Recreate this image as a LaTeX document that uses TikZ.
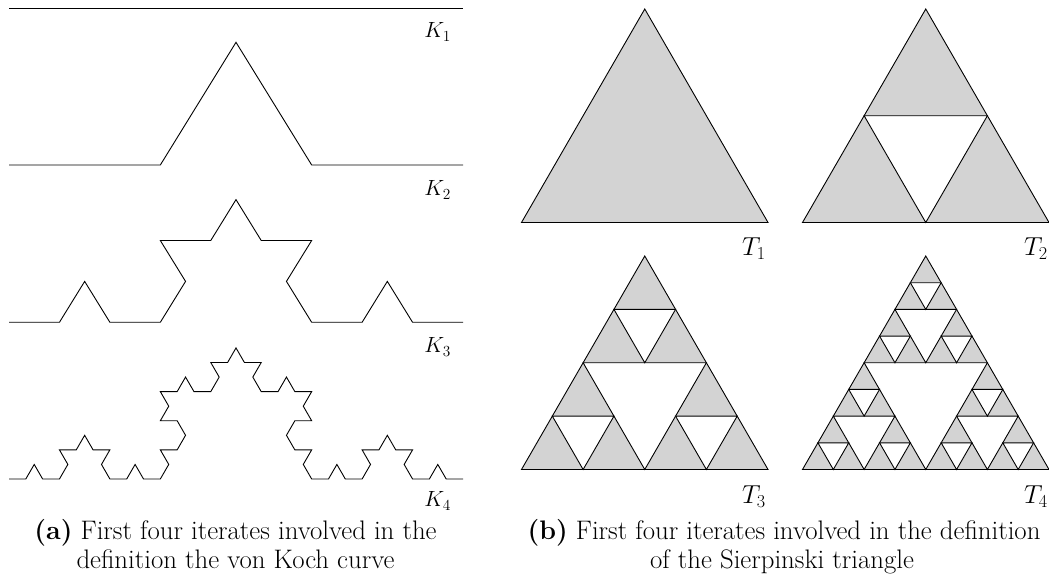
\RequirePackage{fix-cm}
\documentclass[tikz,border=0pt]{standalone}
\usetikzlibrary{lindenmayersystems}
\pgfdeclarelindenmayersystem{Koch}{\rule{F -> F+F--F+F}}
\definecolor{sfill}{HTML}{D3D3D3}
\tikzset{
  kochline/.style={line width=0.9pt, line join=miter},
  tri/.style={draw, line width=0.9pt, fill=sfill, line join=miter},
  sierhole/.style={draw, line width=0.9pt, fill=white, line join=miter},
  klabel/.style={anchor=base east, inner sep=0pt, font=\fontsize{22}{26}\selectfont},
  tlabel/.style={anchor=base east, inner sep=0pt, font=\fontsize{26}{30}\selectfont},
  captext/.style={anchor=base, inner sep=0pt, font=\fontsize{26.8}{30}\selectfont},
}
\newcommand\sierholes[4]{%
  \ifnum#1>0\relax
  \begingroup
    \pgfmathsetmacro\sx{#2}%
    \pgfmathsetmacro\sy{#3}%
    \pgfmathsetmacro\ss{#4/2}%
    \pgfmathsetmacro\sh{\ss*0.8660254}%
    \pgfmathsetmacro\sxa{\sx+\ss/2}%
    \pgfmathsetmacro\sxb{\sx+\ss*1.5}%
    \pgfmathsetmacro\sxc{\sx+\ss}%
    \pgfmathsetmacro\syh{\sy+\sh}%
    \path[sierhole] (\sxa,\syh) -- (\sxb,\syh) -- (\sxc,\sy) -- cycle;
    \pgfmathtruncatemacro\sl{#1-1}%
    \edef\snext{\noexpand\sierholes{\sl}{\sx}{\sy}{\ss}%
      \noexpand\sierholes{\sl}{\sxc}{\sy}{\ss}%
      \noexpand\sierholes{\sl}{\sxa}{\syh}{\ss}}%
    \snext
  \endgroup
  \fi}
\begin{document}
\begin{tikzpicture}[x=1pt,y=1pt]
\useasboundingbox (0,0) rectangle (1049,575);
% ---- von Koch curves ----
\draw[kochline] (9,566.7) -- (463,566.7);
\begin{scope}[shift={(9,410)}, yscale=0.936]
  \draw[kochline, l-system={Koch, axiom=F, order=1, step=151.333pt, angle=60}] (0,0) lindenmayer system;
\end{scope}
\begin{scope}[shift={(9,252.7)}, yscale=0.936]
  \draw[kochline, l-system={Koch, axiom=F, order=2, step=50.444pt, angle=60}] (0,0) lindenmayer system;
\end{scope}
\begin{scope}[shift={(9,96)}]
  \draw[kochline, l-system={Koch, axiom=F, order=3, step=16.815pt, angle=60}] (0,0) lindenmayer system;
\end{scope}
\node[klabel] (k1) at (451,537) {$K_1$};
\node[klabel] (k2) at (451,379) {$K_2$};
\node[klabel] (k3) at (451,222) {$K_3$};
\node[klabel] (k4) at (451,68) {$K_4$};
% ---- Sierpinski triangles ----
\path[tri] (521.5,352.5) -- (768,352.5) -- (644.75,566) -- cycle;
\path[tri] (802.5,352.5) -- (1049,352.5) -- (925.75,566) -- cycle;
\sierholes{1}{802.5}{352.5}{246.5}
\path[tri] (521.5,105.5) -- (768,105.5) -- (644.75,319) -- cycle;
\sierholes{2}{521.5}{105.5}{246.5}
\path[tri] (802.5,105.5) -- (1049,105.5) -- (925.75,319) -- cycle;
\sierholes{3}{802.5}{105.5}{246.5}
\node[tlabel] (t1) at (766,319) {$T_1$};
\node[tlabel] (t2) at (1048,319) {$T_2$};
\node[tlabel] (t3) at (766,71) {$T_3$};
\node[tlabel] (t4) at (1048,71) {$T_4$};
% ---- captions ----
\node[captext] (capa1) at (235.5,35) {\textbf{(a)} First four iterates involved in the};
\node[captext] (capa2) at (235.5,6) {definition the von Koch curve};
\node[captext] (capb1) at (784,35) {\textbf{(b)} First four iterates involved in the definition};
\node[captext] (capb2) at (782,6) {of the Sierpinski triangle};
\end{tikzpicture}
\end{document}
